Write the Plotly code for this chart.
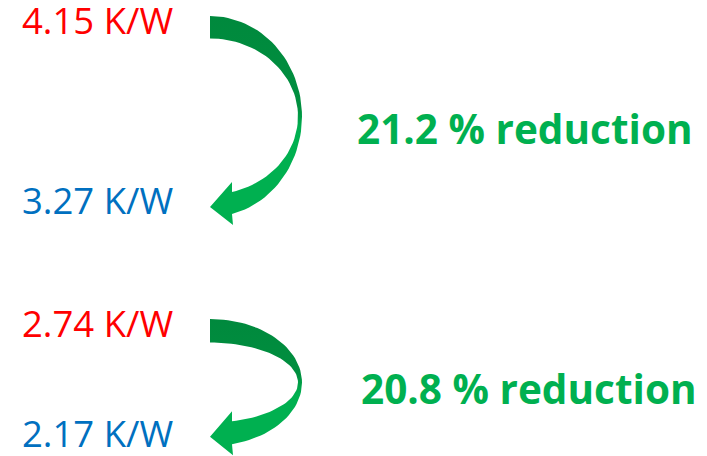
import numpy as np
import plotly.graph_objects as go

# ── Data ────────────────────────────────────────────────────────────────
before_kw = [4.15, 2.74]
after_kw = [3.27, 2.17]
reduction_pct = [21.2, 20.8]

# ── Layout tokens (pixel space) ─────────────────────────────────────────
W, H = 707, 456
RED = "#FF0000"
BLUE = "#0070C0"
GREEN = "#00B050"
DARK_GREEN = "#00893D"
FONT = "Open Sans, Noto Sans, sans-serif"

before_y = [20, 323]
after_y = [200, 433]
reduction_y = [128, 388]
reduction_x = [525, 529]
# arrow geometry: centre y, outer / inner vertical radius
arrow_geom = [(116.5, 100.5, 78.0), (382.5, 63.5, 40.0)]
CX, RX_OUT, RX_IN, HEAD_X = 210, 92, 88, 232


def arrow_path(cy, ry_out, ry_in):
    t_out = np.arccos((HEAD_X - CX) / RX_OUT)
    t_in = np.arccos((HEAD_X - CX) / RX_IN)
    a_out = np.linspace(-np.pi / 2, t_out, 60)
    a_in = np.linspace(t_in, -np.pi / 2, 60)
    xo, yo = CX + RX_OUT * np.cos(a_out), cy + ry_out * np.sin(a_out)
    xi, yi = CX + RX_IN * np.cos(a_in), cy + ry_in * np.sin(a_in)
    y_mid = (yo[-1] + yi[0]) / 2
    head_x = [HEAD_X + 1, CX, HEAD_X]
    head_y = [yo[-1] + 11, y_mid + 4, yi[0] - 10]
    xs = list(xo) + head_x + list(xi) + [xo[0]]
    ys = list(yo) + head_y + list(yi) + [yo[0]]
    return xs, ys, yo[0], yo[-1] + 11


fig = go.Figure()
for cy, ro, ri in arrow_geom:
    xs, ys, top, bottom = arrow_path(cy, ro, ri)
    f1 = (cy - 8 - top) / (bottom - top)
    f2 = (cy + 12 - top) / (bottom - top)
    fig.add_trace(go.Scatter(
        x=xs, y=ys, mode="lines", line=dict(width=0),
        fill="toself",
        fillgradient=dict(type="vertical", start=top, stop=bottom,
                          colorscale=[[0, DARK_GREEN], [f1, "#008F3F"], [f2, GREEN], [1, GREEN]]),
        hoverinfo="skip", showlegend=False,
    ))

for i in range(len(before_kw)):
    fig.add_annotation(x=175, y=before_y[i], text=f"{before_kw[i]:.2f} K/W",
                       xanchor="right", yanchor="middle", showarrow=False,
                       font=dict(family=FONT, size=36.5, color=RED))
    fig.add_annotation(x=175, y=after_y[i], text=f"{after_kw[i]:.2f} K/W",
                       xanchor="right", yanchor="middle", showarrow=False,
                       font=dict(family=FONT, size=36.5, color=BLUE))
    fig.add_annotation(x=reduction_x[i], y=reduction_y[i],
                       text=f"<b>{reduction_pct[i]:.1f} % reduction</b>",
                       xanchor="center", yanchor="middle", showarrow=False,
                       font=dict(family=FONT, size=40.5, color=GREEN))

fig.update_layout(
    width=W, height=H,
    margin=dict(l=0, r=0, t=0, b=0),
    paper_bgcolor="white", plot_bgcolor="white",
    xaxis=dict(range=[0, W], visible=False, fixedrange=True),
    yaxis=dict(range=[H, 0], visible=False, fixedrange=True),
)
fig.write_html("out.html", config={"displayModeBar": False},
               post_script="document.body.style.margin='0';")
